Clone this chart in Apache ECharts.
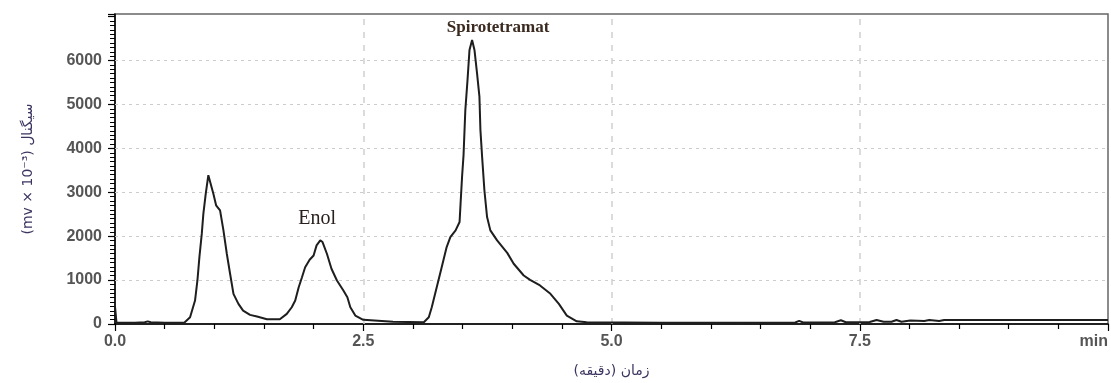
<!DOCTYPE html>
<html><head><meta charset="utf-8">
<script src="https://cdn.jsdelivr.net/npm/echarts@6/dist/echarts.min.js"></script>
<style>html,body{margin:0;padding:0;background:#fff}#c{width:1111px;height:383px}</style>
</head><body><div id="c"></div>
<script>
// retention time (min)
const timeMin = [0, 0.015, 0.2, 0.3, 0.33, 0.36, 0.5, 0.7, 0.72, 0.756, 0.806, 0.83, 0.85, 0.874, 0.89, 0.914, 0.94, 0.958, 0.99, 1.018, 1.058, 1.092, 1.126, 1.159, 1.193, 1.243, 1.29, 1.36, 1.43, 1.53, 1.66, 1.73, 1.78, 1.815, 1.85, 1.883, 1.915, 1.96, 2.0, 2.03, 2.067, 2.09, 2.134, 2.18, 2.235, 2.30, 2.34, 2.37, 2.42, 2.50, 2.8, 3.11, 3.16, 3.19, 3.24, 3.29, 3.34, 3.377, 3.43, 3.47, 3.48, 3.495, 3.51, 3.528, 3.55, 3.57, 3.596, 3.62, 3.646, 3.67, 3.68, 3.697, 3.72, 3.747, 3.78, 3.848, 3.95, 4.015, 4.116, 4.18, 4.28, 4.385, 4.47, 4.55, 4.65, 4.75, 5.5, 6.85, 6.89, 6.93, 7.25, 7.31, 7.36, 7.6, 7.67, 7.74, 7.82, 7.87, 7.92, 8.01, 8.15, 8.2, 8.3, 8.35, 10];
// detector signal
const signal = [400, 30, 30, 40, 60, 40, 30, 35, 40, 153, 534, 991, 1523, 2057, 2514, 2970, 3388, 3365, 2970, 2703, 2589, 2132, 1600, 1144, 687, 459, 306, 208, 170, 110, 107, 230, 381, 534, 838, 1066, 1294, 1463, 1561, 1790, 1904, 1866, 1600, 1258, 991, 762, 610, 381, 192, 94, 50, 40, 153, 381, 838, 1294, 1751, 1980, 2132, 2322, 2742, 3349, 3845, 4872, 5557, 6242, 6470, 6242, 5710, 5176, 4416, 3806, 3046, 2436, 2132, 1904, 1620, 1372, 1105, 1006, 877, 687, 459, 192, 62, 40, 30, 35, 70, 35, 40, 85, 40, 45, 90, 50, 50, 90, 50, 80, 70, 90, 70, 90, 90];
const xTickLabels = ['0.0', '2.5', '5.0', '7.5', 'min'];
const yGridValues = [1000, 2000, 3000, 4000, 5000, 6000];
const xGridValues = [2.5, 5.0, 7.5];
const peakNames = ['Enol', 'Spirotetramat'];
const peakTimes = [2.067, 3.596];
const peakSignals = [1904, 6470];
const yTitle = '(mv \u00d7 10\u207b\u00b3) سیگنال';
const xTitle = 'زمان (دقیقه)\u200F';

const seriesData = timeMin.map((t, i) => [t, signal[i]]);
const titleColor = '#3b3560';
const peakLabelStyles = [
  {fontFamily: 'Liberation Serif', fontSize: 20, fontWeight: 'normal', color: '#2a2020', offset: [-3, -22]},
  {fontFamily: 'Liberation Serif', fontSize: 17, fontWeight: 'bold', color: '#3a2a20', offset: [26, -12]}
];

const chart = echarts.init(document.getElementById('c'), null, {renderer: 'canvas'});
chart.setOption({
  animation: false,
  backgroundColor: '#fff',
  grid: {left: 115, right: 2, top: 14, bottom: 59, show: true, borderColor: '#666', borderWidth: 1.5, backgroundColor: 'transparent'},
  xAxis: {
    type: 'value', min: 0, max: 10, interval: 2.5,
    axisLine: {show: true, onZero: false, lineStyle: {color: '#000', width: 1.5}},
    axisTick: {show: true, length: 7, lineStyle: {color: '#000', width: 1.2}},
    minorTick: {show: true, splitNumber: 5, length: 5, lineStyle: {color: '#000', width: 1.2}},
    splitLine: {show: false},
    axisLabel: {
      formatter: v => xTickLabels[Math.round(v / 2.5)] || '',
      fontSize: 16, fontWeight: 'bold', color: '#555', margin: 10, fontFamily: 'Liberation Sans', alignMaxLabel: 'right'
    },
    name: xTitle, nameLocation: 'middle', nameGap: 40,
    nameTextStyle: {fontSize: 14, color: titleColor, fontFamily: 'DejaVu Sans'}
  },
  yAxis: {
    type: 'value', min: 0, max: 7060, interval: 1000,
    axisLine: {show: true, onZero: false, lineStyle: {color: '#000', width: 1.5}},
    axisTick: {show: true, length: 7, lineStyle: {color: '#000', width: 1.2}},
    minorTick: {show: true, splitNumber: 10, length: 5, lineStyle: {color: '#000'}},
    splitLine: {show: false},
    axisLabel: {
      formatter: v => (v <= 6000 && v % 1000 === 0) ? String(v) : '',
      fontSize: 16, fontWeight: 'bold', color: '#555', margin: 13, fontFamily: 'Liberation Sans'
    },
    name: yTitle, nameLocation: 'middle', nameGap: 80, nameRotate: 90,
    nameTextStyle: {fontSize: 14, color: titleColor, fontFamily: 'DejaVu Sans'}
  },
  series: [{
    type: 'line',
    data: seriesData,
    showSymbol: false,
    lineStyle: {color: '#1e1e1e', width: 2},
    markLine: {
      silent: true, symbol: ['none', 'none'], label: {show: false}, z: 1,
      data: yGridValues.map(v => ({yAxis: v, lineStyle: {color: '#cccccc', type: [3, 4], width: 1}}))
        .concat(xGridValues.map(v => ({xAxis: v, lineStyle: {color: '#d0d0d0', type: [6, 7], width: 1.5}})))
    },
    markPoint: {
      silent: true,
      symbol: 'circle', symbolSize: 1, itemStyle: {color: 'rgba(0,0,0,0)'},
      data: peakNames.map((n, i) => ({
        name: n, coord: [peakTimes[i], peakSignals[i]],
        label: Object.assign({show: true, position: 'inside', formatter: n}, peakLabelStyles[i])
      }))
    }
  }]
});
</script></body></html>
